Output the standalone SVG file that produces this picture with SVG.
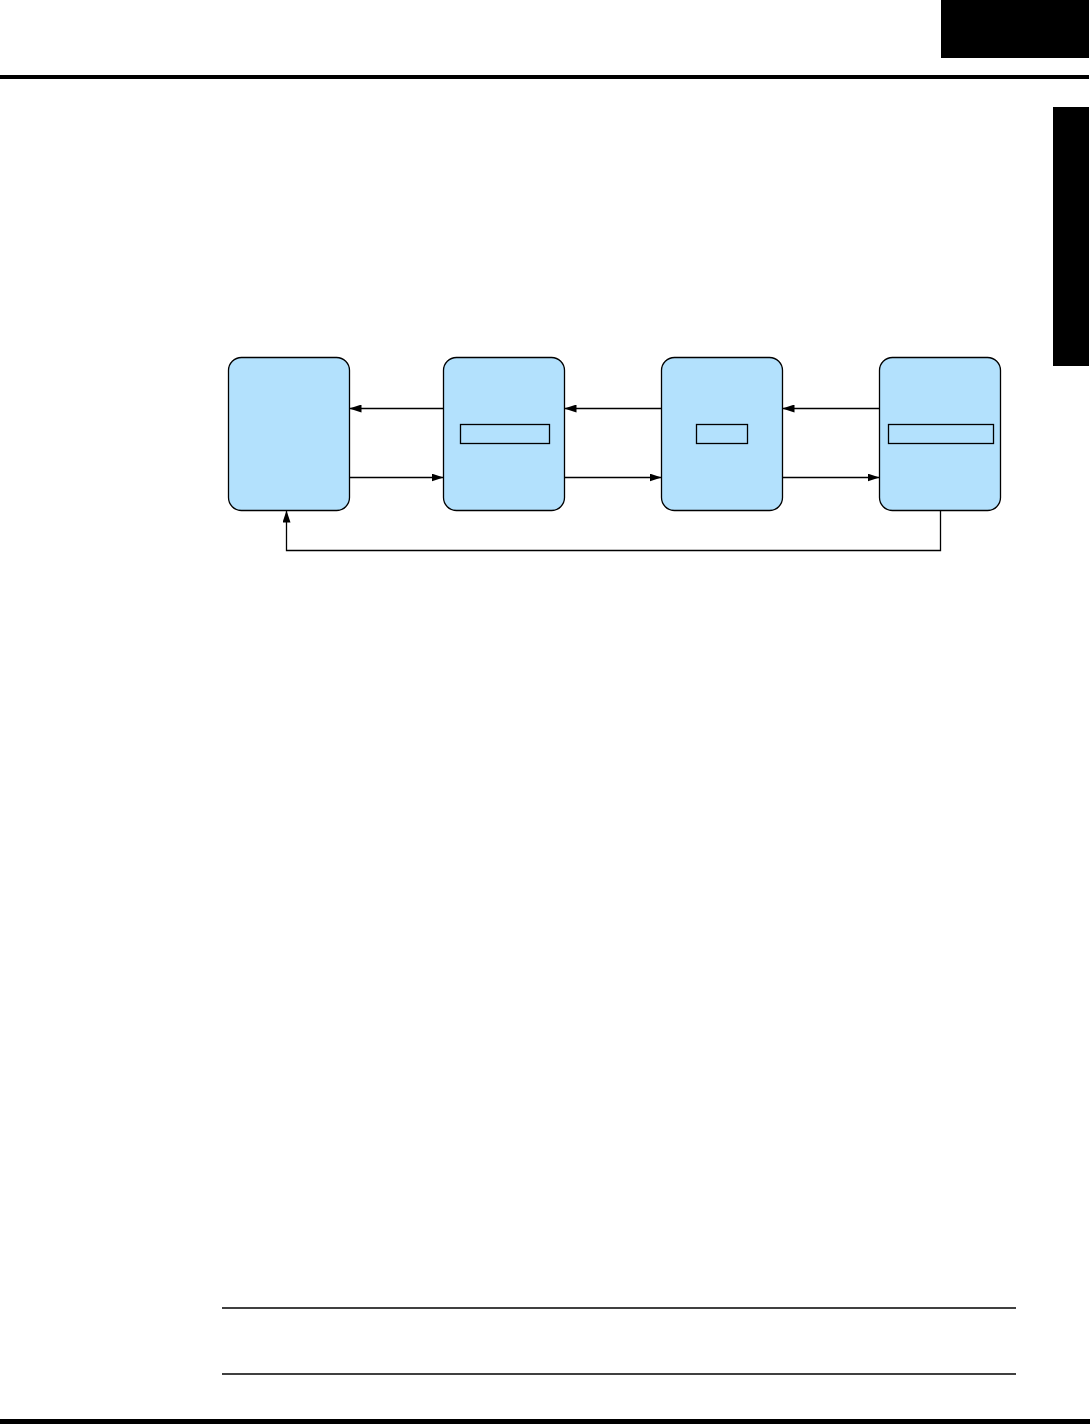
<svg xmlns="http://www.w3.org/2000/svg" width="1090" height="1425" viewBox="0 0 1090 1425">
<defs>
<style>
.node{fill:#b3e1fd;stroke:#000;stroke-width:1.3}
.inner{fill:none;stroke:#000;stroke-width:1.3}
.conn{fill:none;stroke:#000;stroke-width:1.3}
.rule{stroke:#000}
</style>
<marker id="ah" viewBox="0 0 12 8" refX="12" refY="4" markerWidth="12" markerHeight="8" markerUnits="userSpaceOnUse" orient="auto">
<path d="M0,0 L12,4 L0,8 Z" fill="#000"/>
</marker>
</defs>
<rect width="1090" height="1425" fill="#fff"/>
<g id="page">
<rect x="941" y="0" width="148" height="58" fill="#000"/>
<rect x="0" y="75" width="1089" height="4" fill="#000"/>
<rect x="1053" y="107" width="36" height="259" fill="#000"/>
<line class="rule" x1="222" y1="1308" x2="1016" y2="1308" stroke-width="1.5"/>
<line class="rule" x1="222" y1="1374" x2="1016" y2="1374" stroke-width="1.5"/>
<rect x="0" y="1419" width="1090" height="5" fill="#000"/>
</g>
<g id="node1"><rect class="node" x="228.5" y="357.5" width="121" height="153" rx="13"/></g>
<g id="node2"><rect class="node" x="443.5" y="357.5" width="121" height="153" rx="13"/><rect class="inner" x="460.5" y="424.5" width="89" height="19"/></g>
<g id="node3"><rect class="node" x="661.5" y="357.5" width="121" height="153" rx="13"/><rect class="inner" x="696.5" y="424.5" width="51" height="19"/></g>
<g id="node4"><rect class="node" x="879.5" y="357.5" width="121" height="153" rx="13"/><rect class="inner" x="888.5" y="424.5" width="105" height="19"/></g>
<g id="connectors">
<line class="conn" x1="443.5" y1="408.5" x2="349.5" y2="408.5" marker-end="url(#ah)"/>
<line class="conn" x1="349.5" y1="477.5" x2="443.5" y2="477.5" marker-end="url(#ah)"/>
<line class="conn" x1="661.5" y1="408.5" x2="564.5" y2="408.5" marker-end="url(#ah)"/>
<line class="conn" x1="564.5" y1="477.5" x2="661.5" y2="477.5" marker-end="url(#ah)"/>
<line class="conn" x1="879.5" y1="408.5" x2="782.5" y2="408.5" marker-end="url(#ah)"/>
<line class="conn" x1="782.5" y1="477.5" x2="879.5" y2="477.5" marker-end="url(#ah)"/>
<polyline class="conn" points="940.5,510.5 940.5,550.5 286.5,550.5 286.5,510.5" marker-end="url(#ah)"/>
</g>
</svg>
